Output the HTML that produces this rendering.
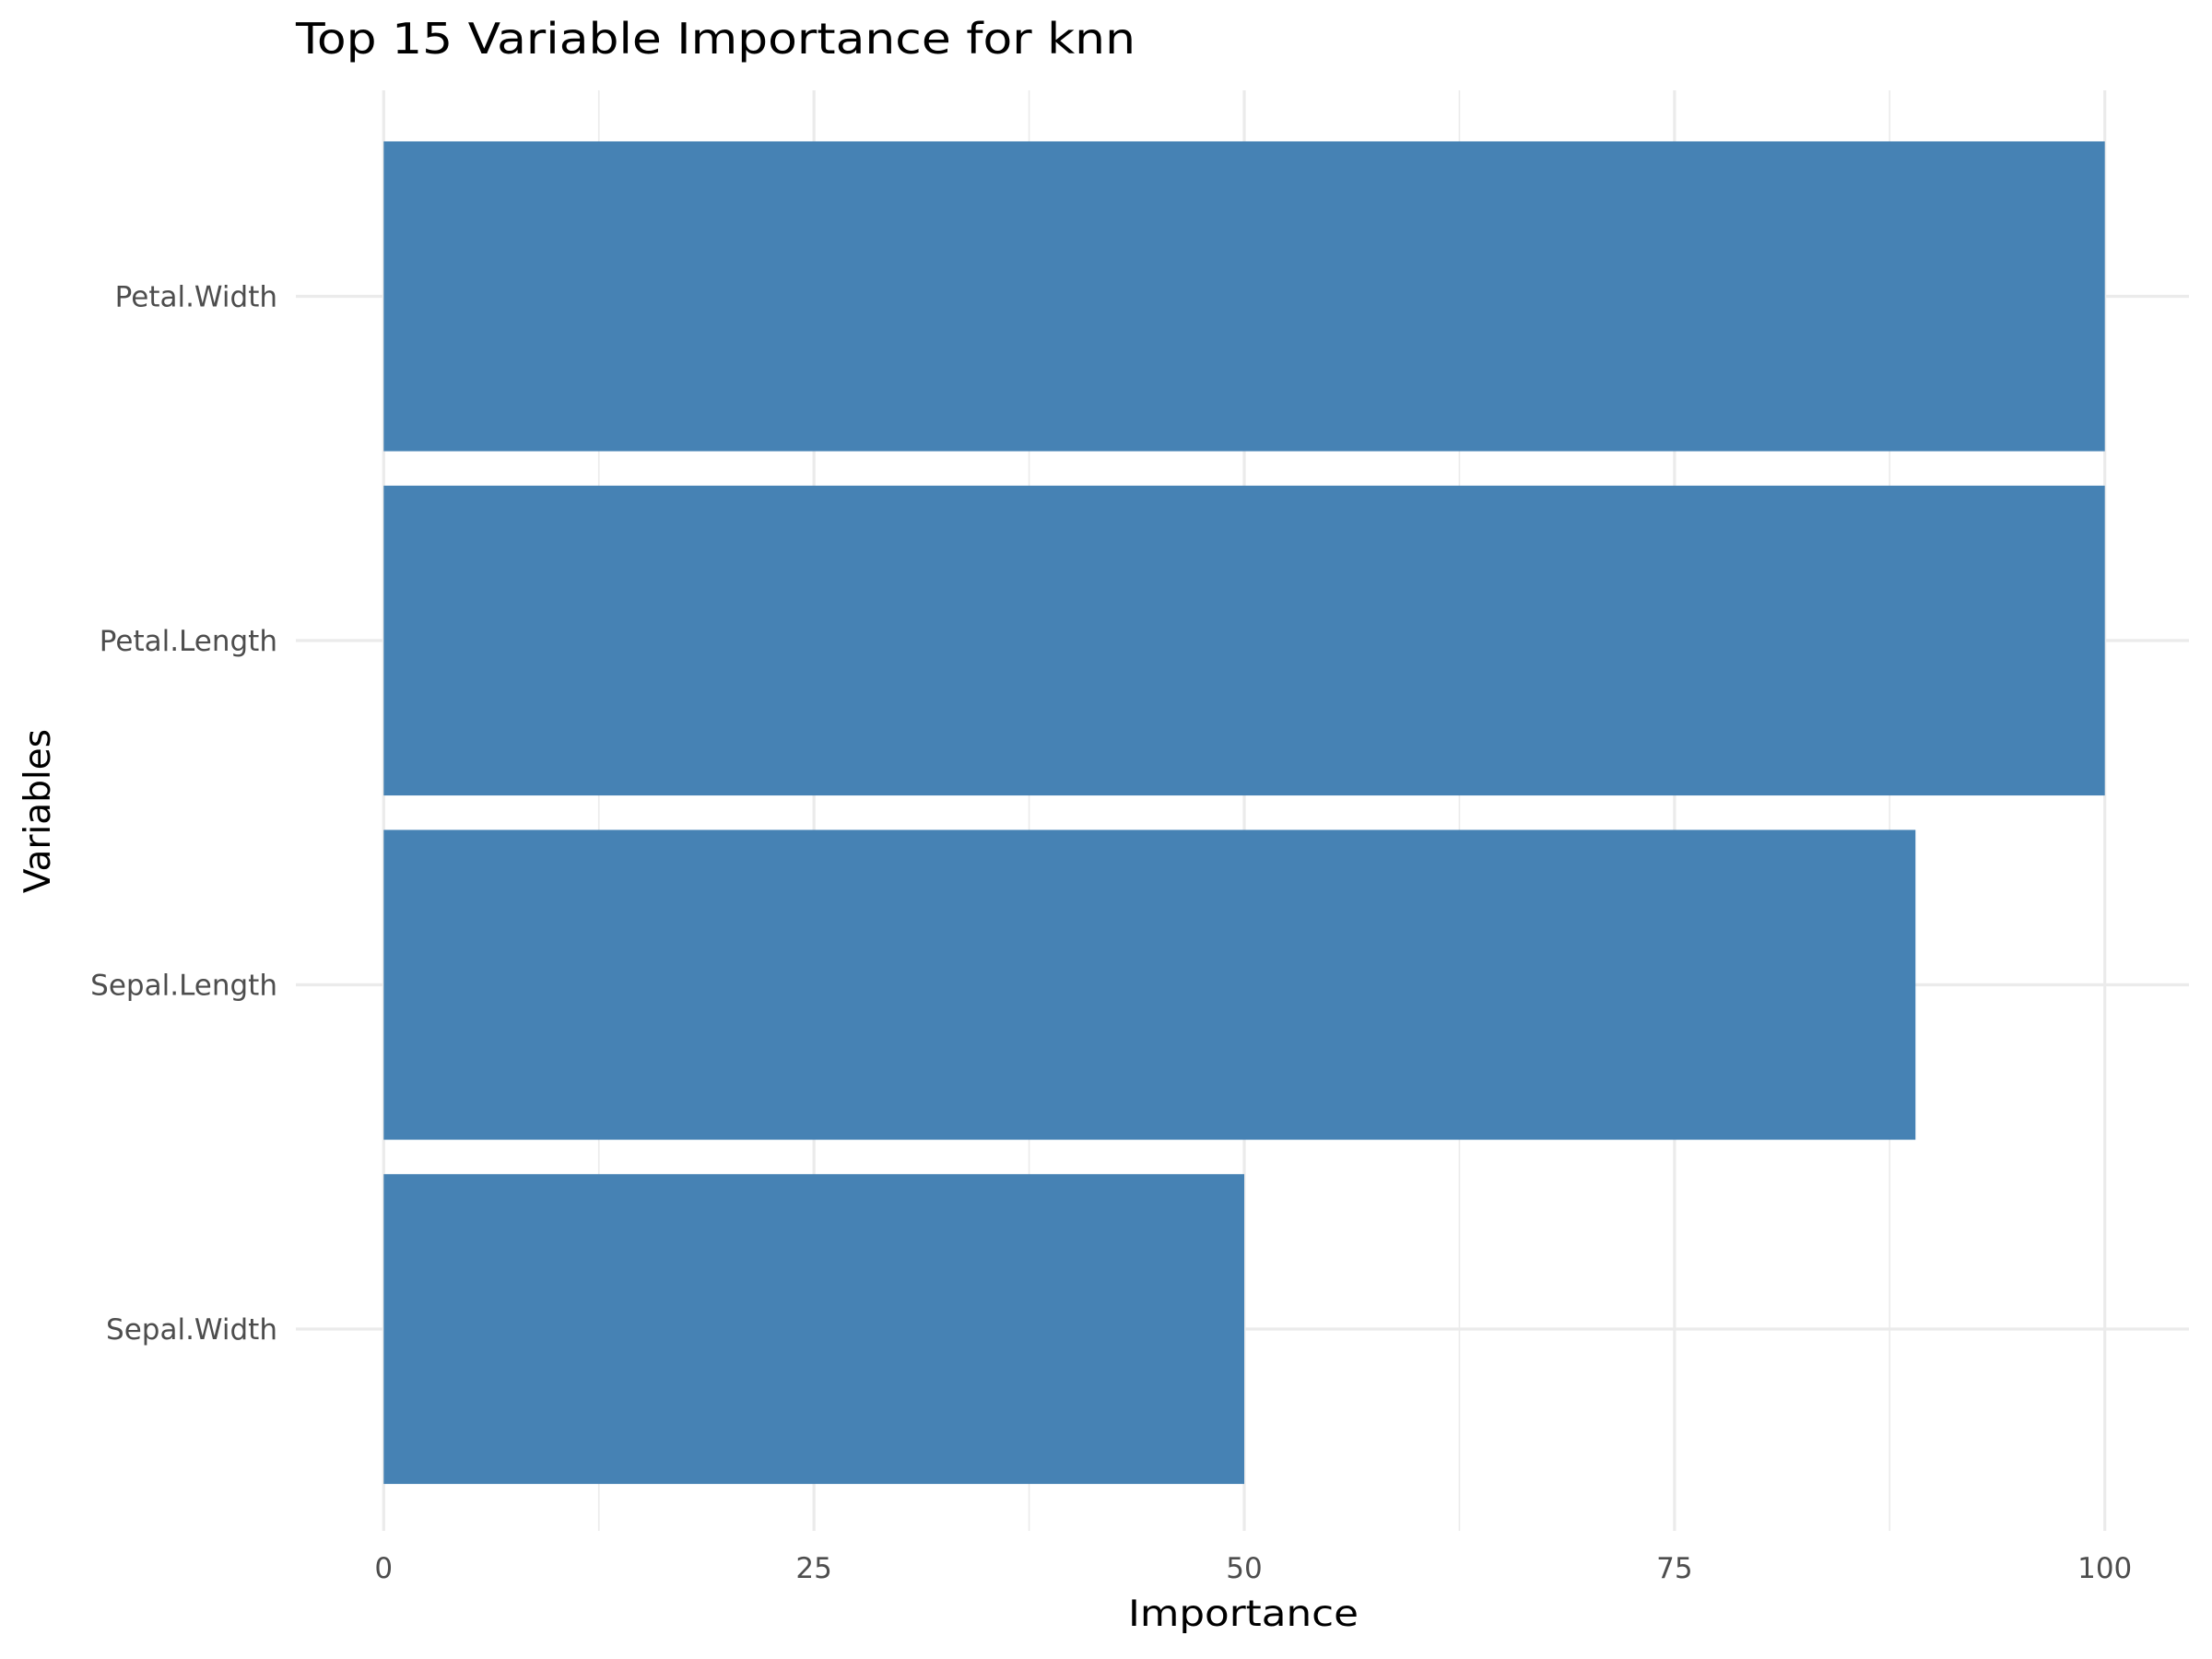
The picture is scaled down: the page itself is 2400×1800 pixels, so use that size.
<!DOCTYPE html>
<html><head><meta charset="utf-8"><style>
html,body{margin:0;padding:0;background:#fff;}
svg{display:block;font-family:"DejaVu Sans","Liberation Sans",sans-serif;}
</style></head><body>
<svg id="chart" width="2400" height="1800" viewBox="0 0 2400 1800" xmlns="http://www.w3.org/2000/svg">
<rect width="2400" height="1800" fill="#fff"/>
<g id="grid"></g><g id="bars"></g><g id="axes"></g>
<text x="321" y="58" font-size="46" fill="#000" textLength="911" lengthAdjust="spacingAndGlyphs">Top 15 Variable Importance for knn</text>
<text x="1349" y="1764" font-size="39" fill="#000" text-anchor="middle" textLength="250" lengthAdjust="spacingAndGlyphs">Importance</text>
<text x="0" y="0" font-size="39" fill="#000" text-anchor="middle" transform="translate(54,880) rotate(-90)">Variables</text>
</svg>
<script>
const categories = ["Sepal.Width","Sepal.Length","Petal.Length","Petal.Width"];
const values = [50, 89, 100, 100];
const xTicks = [0, 25, 50, 75, 100];
const xMinor = [12.5, 37.5, 62.5, 87.5];
const NS = "http://www.w3.org/2000/svg";
const panel = {l:321, r:2375, t:98, b:1661};
const x0 = 416.3, x100 = 2283.7;
function xs(v){ return x0 + (x100 - x0) * v / 100; }
const step = 373.5, yBottom = 1442;
function ys(i){ return yBottom - i * step; }
function mk(tag, attrs, parent){ const e = document.createElementNS(NS, tag); for (const k in attrs) e.setAttribute(k, attrs[k]); parent.appendChild(e); return e; }
const grid = document.getElementById('grid'), bars = document.getElementById('bars'), axes = document.getElementById('axes');
xMinor.forEach(v => {
  const l = mk('line', {x1:xs(v), x2:xs(v), y1:panel.t, y2:panel.b, stroke:'#ebebeb', 'stroke-width':1.6}, grid);
  
  
});
xTicks.forEach(v => {
  const l = mk('line', {x1:xs(v), x2:xs(v), y1:panel.t, y2:panel.b, stroke:'#ebebeb', 'stroke-width':3.2}, grid);
  
  
  const t = mk('text', {x:xs(v), y:1712, 'font-size':31, fill:'#4d4d4d', 'text-anchor':'middle'}, axes);
  t.textContent = v;
  
  
});
categories.forEach((c, i) => {
  const l = mk('line', {x1:panel.l, x2:panel.r, y1:ys(i), y2:ys(i), stroke:'#ebebeb', 'stroke-width':3.2}, grid);
  
  
  const h = step * 0.9;
  const r = mk('rect', {x:xs(0), y:ys(i) - h/2, width:xs(values[i]) - xs(0), height:h, fill:'#4682b4'}, bars);
  
  
  const t = mk('text', {x:301, y:ys(i) + 11, 'font-size':31, fill:'#4d4d4d', 'text-anchor':'end'}, axes);
  t.textContent = c;
  
  
});
</script>
</body></html>
